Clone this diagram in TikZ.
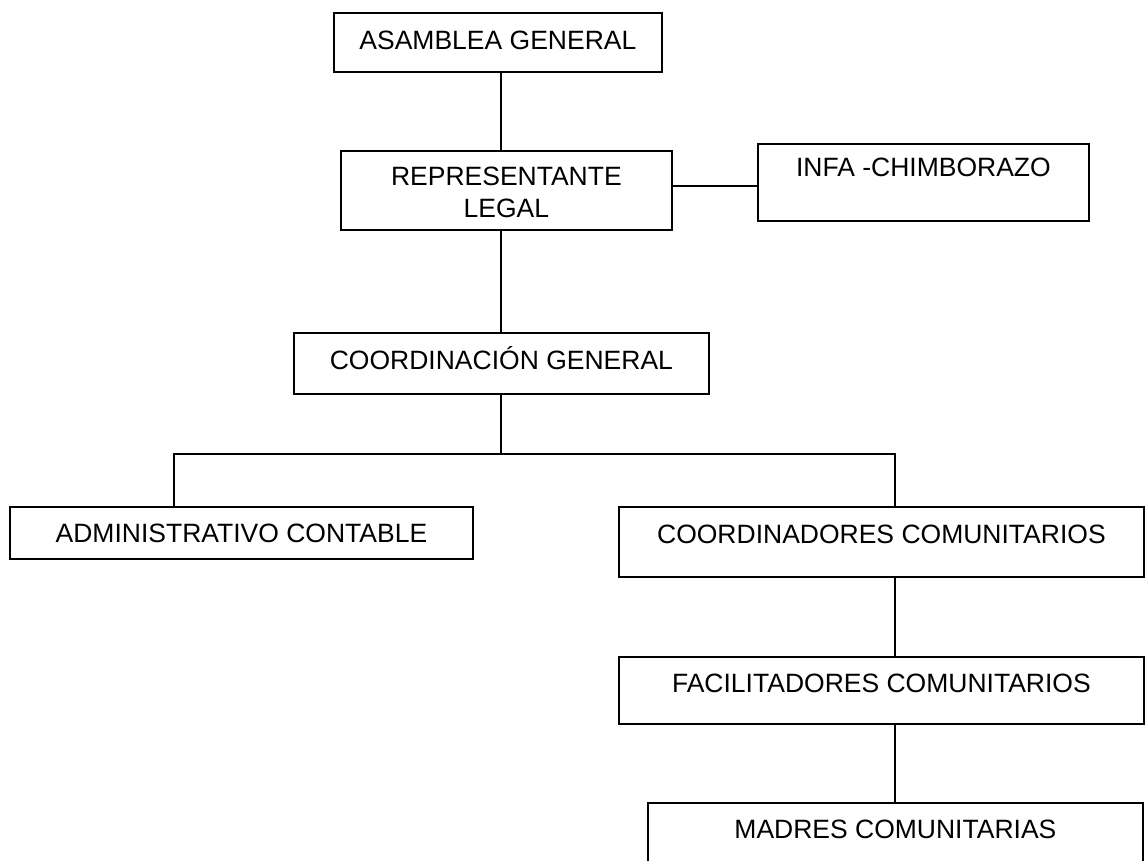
\documentclass[tikz,border=0pt]{standalone}
\usepackage{fontspec}
\setmainfont{Liberation Sans}
\tikzset{
	orgbox/.style={draw, line width=1.8pt, anchor=north west, inner xsep=0pt, inner ysep=0pt,
		align=center, font=\fontsize{26.5}{32}\selectfont},
	orgline/.style={line width=1.8pt}
}
\begin{document}
\begin{tikzpicture}[x=1pt, y=-1pt]
		\useasboundingbox[fill=white] (0,0) rectangle (1148,860);
		% cajas
		\node[orgbox, minimum width=328pt, text height=37pt, text depth=22pt] (asamblea) at (333,12) {ASAMBLEA GENERAL};
		\node[orgbox, minimum width=331pt, minimum height=79pt] (repr) at (340,150) {\strut REPRESENTANTE\\LEGAL};
		\node[orgbox, minimum width=331pt, text height=33pt, text depth=44pt] (infa) at (757,143) {INFA -CHIMBORAZO};
		\node[orgbox, minimum width=415pt, text height=36.5pt, text depth=24.5pt] (coord) at (293,332) {COORDINACIÓN GENERAL};
		\node[orgbox, minimum width=463pt, text height=36pt, text depth=16pt] (admin) at (9,506) {ADMINISTRATIVO CONTABLE};
		\node[orgbox, minimum width=525pt, text height=37pt, text depth=33pt] (coordn) at (618,506) {COORDINADORES COMUNITARIOS};
		\node[orgbox, minimum width=525pt, text height=36pt, text depth=31pt] (facil) at (618,656) {FACILITADORES COMUNITARIOS};
		\node[orgbox, minimum width=495pt, text height=36pt, text depth=40pt] (madres) at (647,802) {MADRES COMUNITARIAS};
		% lineas
		\coordinate (spine) at (501,0);
		\coordinate (dropL) at (174,0);
		\coordinate (branch) at (895,0);
		\coordinate (fork) at (501,454);
		\coordinate (tie) at (0,186);
		\draw[orgline] (asamblea.south -| spine) -- (repr.north -| spine);
		\draw[orgline] (repr.east |- tie) -- (infa.west |- tie);
		\draw[orgline] (repr.south -| spine) -- (coord.north -| spine);
		\draw[orgline] (coord.south -| spine) -- (fork);
		\draw[orgline] (admin.north -| dropL) |- (fork) -| (coordn.north -| branch);
		\draw[orgline] (coordn.south -| branch) -- (facil.north -| branch);
		\draw[orgline] (facil.south -| branch) -- (madres.north -| branch);
\end{tikzpicture}
\end{document}
